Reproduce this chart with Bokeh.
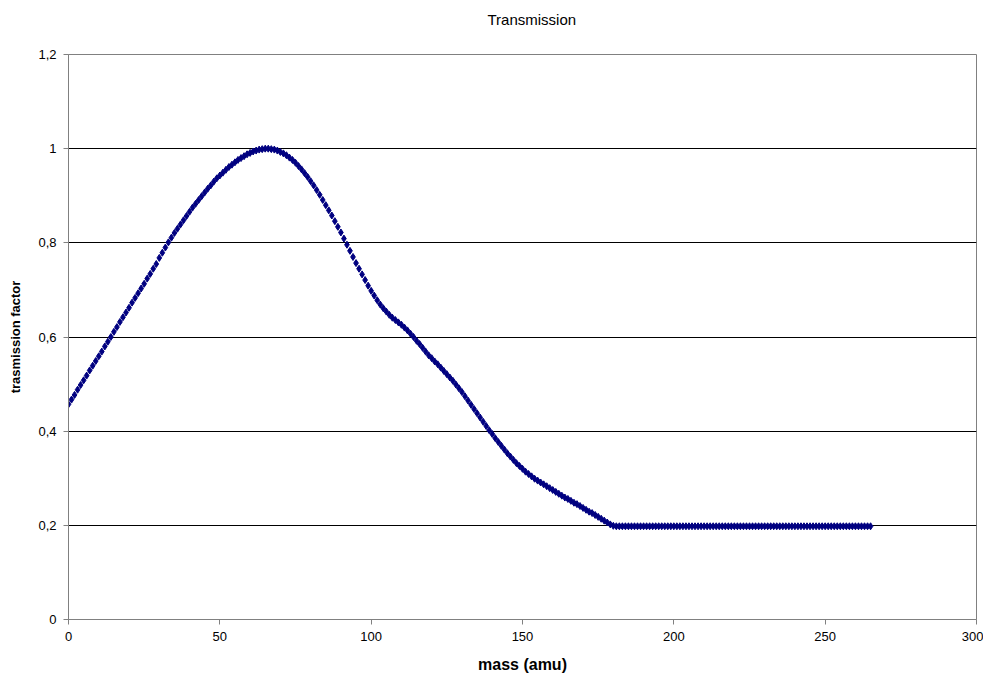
from bokeh.plotting import figure
from bokeh.models import FixedTicker, Range1d, ColumnDataSource, LinearAxis
from bokeh.embed import file_html
from bokeh.resources import INLINE

# mass in amu (one point per integer mass)
mass = list(range(0, 266))

# transmission factor
trans_rise = [
    0.457, 0.467, 0.477, 0.488, 0.498, 0.508, 0.518, 0.529, 0.539, 0.549,
    0.559, 0.569, 0.580, 0.590, 0.600, 0.611, 0.621, 0.632, 0.642, 0.652,
    0.662, 0.673, 0.683, 0.693, 0.703, 0.713, 0.724, 0.734, 0.745, 0.755,
    0.768, 0.779, 0.790, 0.801, 0.811, 0.821, 0.830, 0.839, 0.848, 0.857,
    0.866, 0.875, 0.883, 0.891, 0.899, 0.907, 0.915, 0.922, 0.930, 0.937,
    0.943, 0.949, 0.955, 0.961, 0.966, 0.971, 0.976, 0.980, 0.984, 0.988,
    0.991, 0.994, 0.996, 0.998, 0.999, 1.000, 1.000, 0.999, 0.998, 0.996,
]
trans_fall = [
    0.993, 0.990, 0.986, 0.981, 0.976, 0.970, 0.963, 0.956, 0.948, 0.940,
    0.931, 0.922, 0.912, 0.902, 0.891, 0.880, 0.869, 0.858, 0.846, 0.834,
    0.822, 0.809, 0.796, 0.783, 0.770, 0.757, 0.745, 0.733, 0.721, 0.709,
    0.698, 0.688, 0.678, 0.669, 0.661, 0.654, 0.647, 0.641, 0.636, 0.631,
    0.626, 0.620, 0.614, 0.607, 0.600, 0.592, 0.585, 0.577, 0.569, 0.561,
    0.555, 0.548, 0.542, 0.535, 0.528, 0.521, 0.514, 0.507, 0.499, 0.491,
    0.483, 0.474, 0.465, 0.456, 0.447, 0.438, 0.429, 0.420, 0.411, 0.402,
    0.394, 0.385, 0.377, 0.369, 0.361, 0.353, 0.346, 0.339, 0.332, 0.326,
    0.320, 0.314, 0.309, 0.304, 0.299, 0.295, 0.291, 0.287, 0.283, 0.279,
    0.275, 0.271, 0.267, 0.263, 0.259, 0.256, 0.252, 0.248, 0.245, 0.241,
    0.237, 0.233, 0.229, 0.226, 0.222, 0.218, 0.214, 0.210, 0.206, 0.202,
    0.199,
]
trans_plateau = [0.198] * 85

transmission = trans_rise + trans_fall + trans_plateau

x_ticks = [0, 50, 100, 150, 200, 250, 300]
y_ticks = [0, 0.2, 0.4, 0.6, 0.8, 1.0, 1.2]
y_tick_labels = ["0", "0,2", "0,4", "0,6", "0,8", "1", "1,2"]

src = ColumnDataSource(data=dict(mass=mass, transmission=transmission))

p = figure(width=983, height=680, output_backend="svg", toolbar_location=None,
           x_range=Range1d(0, 300), y_range=Range1d(0, 1.2),
           min_border_left=68, min_border_right=7, min_border_top=54,
           min_border_bottom=61, title="Transmission")

xax = p.below[0]
yax = p.left[0]

# invisible spacer axis above the plot area, so that the title sits higher
spacer = LinearAxis(ticker=FixedTicker(ticks=x_ticks), axis_line_color=None,
                    major_tick_line_color=None, minor_tick_line_color=None,
                    major_tick_out=15, major_tick_in=0, major_label_standoff=0,
                    major_label_text_font_size="1px",
                    major_label_overrides={t: " " for t in x_ticks})
p.add_layout(spacer, "above")

p.title.align = "left"
p.title.offset = 419
p.title.standoff = 16
p.title.text_font = "Liberation Sans"
p.title.text_font_size = "15px"
p.title.text_font_style = "normal"
p.title.text_color = "#000000"

p.scatter("mass", "transmission", source=src, marker="diamond", size=7,
          fill_color="#000080", line_color="#000080", line_width=1)

xax.ticker = FixedTicker(ticks=x_ticks)
yax.ticker = FixedTicker(ticks=y_ticks)
yax.major_label_overrides = {t: l for t, l in zip(y_ticks, y_tick_labels)}

xax.axis_label = "mass (amu)"
yax.axis_label = "trasmission factor"
for ax in (xax, yax):
    ax.axis_label_text_font = "Liberation Sans"
    ax.axis_label_text_font_style = "bold"
    ax.axis_label_text_color = "#000000"
    ax.major_label_text_font = "Liberation Sans"
    ax.major_label_text_color = "#000000"
    ax.major_label_text_font_size = "13px"
    ax.axis_line_color = "#808080"
    ax.major_tick_line_color = "#808080"
    ax.major_tick_out = 5
    ax.major_tick_in = 0
    ax.minor_tick_line_color = None
xax.axis_label_text_font_size = "16px"
yax.axis_label_text_font_size = "13px"
xax.major_label_standoff = 7
yax.major_label_standoff = 7
xax.axis_label_standoff = 12
yax.axis_label_standoff = 12

p.xgrid.grid_line_color = None
p.ygrid.grid_line_color = "#000000"
p.ygrid.grid_line_width = 1

p.outline_line_color = "#808080"
p.background_fill_color = "white"
p.border_fill_color = "white"

open("out.html", "w").write(file_html(p, INLINE))
